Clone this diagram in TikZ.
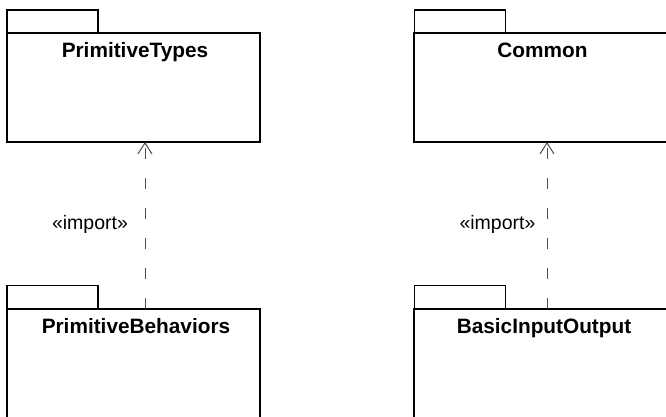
\documentclass[tikz,border=0pt]{standalone}
\usepackage{fontspec}
\setmainfont{Liberation Sans}
\usetikzlibrary{arrows.meta}
\begin{document}
\begin{tikzpicture}[x=1pt,y=-1pt,
  pkgbody/.style={draw=black,line width=1.3pt,minimum width=253pt,minimum height=109pt,inner sep=0pt,outer sep=0pt},
  pkgtab/.style={draw=black,line width=1.3pt,minimum width=91pt,minimum height=23pt,inner sep=0pt,outer sep=0pt},
  pkgname/.style={font=\fontsize{20.8}{24}\selectfont\bfseries,anchor=base,inner sep=0pt},
  stereo/.style={font=\fontsize{19.5}{23}\selectfont,anchor=base,inner sep=0pt},
  dep/.style={draw=black!70,line width=1pt,dash pattern=on 11pt off 19pt,-{Straight Barb[length=11pt,width=14pt]}}
]
\useasboundingbox (0,0) rectangle (666,417);
\clip (0,0) rectangle (666,417);
% packages
\node[pkgbody] (pt) at (133.5,87.5) {};
\node[pkgtab] (pttab) at (52.5,21.5) {};
\node[pkgname] (ptname) at (135,58) {PrimitiveTypes};

\node[pkgbody] (co) at (540.5,87.5) {};
\node[pkgtab] (cotab) at (460,21.5) {};
\node[pkgname] (coname) at (542.5,58) {Common};

\node[pkgbody] (pb) at (133.5,363.5) {};
\node[pkgtab] (pbtab) at (52.5,297) {};
\node[pkgname] (pbname) at (136,333) {PrimitiveBehaviors};

\node[pkgbody] (bio) at (540.5,363.5) {};
\node[pkgtab] (biotab) at (460,297) {};
\node[pkgname] (bioname) at (544,333) {BasicInputOutput};

% dependencies
\draw[dep] ([xshift=11.5pt]pb.north) -- ([xshift=11.5pt]pt.south);
\draw[dep] ([xshift=6.5pt]bio.north) -- ([xshift=6.5pt]co.south);
\node[stereo] (imp1) at (90,229) {«import»};
\node[stereo] (imp2) at (497.5,229) {«import»};
\end{tikzpicture}
\end{document}
